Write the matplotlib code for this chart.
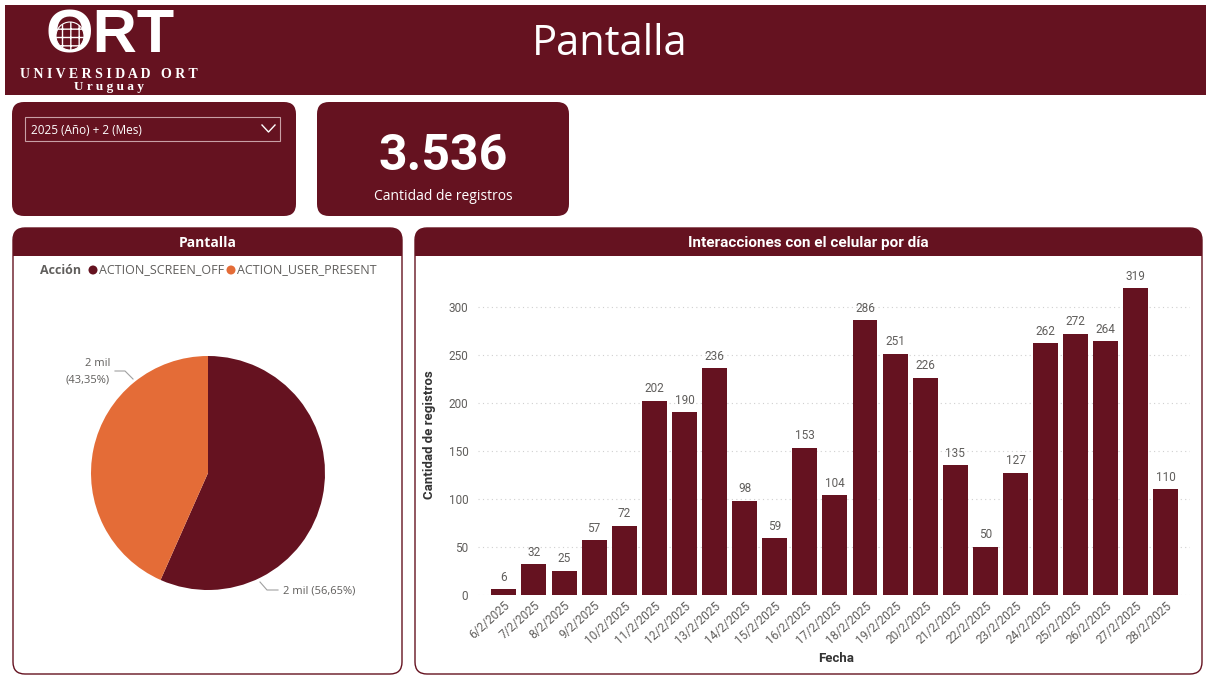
import matplotlib
matplotlib.use("Agg")
import matplotlib.pyplot as plt
from matplotlib.patches import FancyBboxPatch, Rectangle, Circle
import numpy as np

# datos
fechas = ["6/2/2025", "7/2/2025", "8/2/2025", "9/2/2025", "10/2/2025", "11/2/2025",
          "12/2/2025", "13/2/2025", "14/2/2025", "15/2/2025", "16/2/2025", "17/2/2025",
          "18/2/2025", "19/2/2025", "20/2/2025", "21/2/2025", "22/2/2025", "23/2/2025",
          "24/2/2025", "25/2/2025", "26/2/2025", "27/2/2025", "28/2/2025"]
registros = [6, 32, 25, 57, 72, 202, 190, 236, 98, 59, 153, 104,
             286, 251, 226, 135, 50, 127, 262, 272, 264, 319, 110]
acciones = ["ACTION_SCREEN_OFF", "ACTION_USER_PRESENT"]
acciones_valores = [2003, 1533]
filtro = "2025 (Año) + 2 (Mes)"
total = sum(registros)

ROJO = "#651220"
NARANJA = "#E46C37"
GRIS = "#605E5C"
W, H = 1211, 677

fig = plt.figure(figsize=(W / 100, H / 100), dpi=100)
fig.patch.set_facecolor("white")

# eje de fondo en pixeles
bg = fig.add_axes([0, 0, 1, 1])
bg.set_xlim(0, W)
bg.set_ylim(H, 0)
bg.axis("off")


def caja(x, y, w, h, fc, ec="none", lw=0, r=12, z=1):
    p = FancyBboxPatch((x, y), w, h, boxstyle=f"round,pad=0,rounding_size={r}",
                       fc=fc, ec=ec, lw=lw, zorder=z)
    bg.add_patch(p)


# encabezado
bg.add_patch(Rectangle((5, 5), 1201, 90, fc=ROJO, ec="none", zorder=1))
bg.text(610, 44, "Pantalla", color="white", fontsize=30, family="Open Sans",
        ha="center", va="center", zorder=3)

# logo ORT
bg.text(110, 37, "ORT", color="white", fontsize=44, family="Liberation Sans",
        weight="bold", ha="center", va="center", zorder=3)
bg.add_patch(Circle((70, 36), 14, fc=ROJO, ec="white", hatch="++", lw=0.8, zorder=4))
bg.text(109, 74, "U N I V E R S I D A D   O R T", color="white", fontsize=10,
        family="Liberation Serif", weight="bold", ha="center", va="center", zorder=3)
bg.text(109, 87, "U r u g u a y", color="white", fontsize=9.5,
        family="Liberation Serif", weight="bold", ha="center", va="center", zorder=3)

# tarjeta filtro
caja(12, 102, 284, 114, ROJO)
bg.add_patch(Rectangle((25, 117), 255, 24, fc="none", ec="#C8A0A6", lw=0.8, zorder=3))
bg.text(31, 130, filtro, color="white", fontsize=8.5, family="Open Sans",
        ha="left", va="center", zorder=3)
bg.plot([262, 268.5, 275], [125, 132, 125], color="white", lw=1, zorder=3)

# tarjeta total
caja(317, 102, 252, 114, ROJO)
bg.text(443, 157, f"{total:,}".replace(",", "."), color="white", fontsize=36,
        family="Roboto", weight="bold", ha="center", va="center", zorder=3)
bg.text(443, 196, "Cantidad de registros", color="white", fontsize=10,
        family="Open Sans", ha="center", va="center", zorder=3)

# paneles
for x0, x1, titulo, fam, fs in [(13, 402, "Pantalla", "Open Sans", 10),
                                 (415, 1202, "Interacciones con el celular por día", "Roboto", 11)]:
    caja(x0, 228, x1 - x0, 446, "white", ec=ROJO, lw=1)
    caja(x0, 228, x1 - x0, 28, ROJO, z=2)
    bg.add_patch(Rectangle((x0, 242), x1 - x0, 14, fc=ROJO, ec="none", zorder=2))
    bg.text((x0 + x1) / 2, 243, titulo, color="white", fontsize=fs, family=fam,
            weight="bold", ha="center", va="center", zorder=3)

# leyenda del pie
bg.text(40, 270, "Acción", color=GRIS, fontsize=9, family="Open Sans", weight="bold",
        ha="left", va="center", zorder=3)
for xs, nombre, col in [(93, acciones[0], ROJO), (231, acciones[1], NARANJA)]:
    bg.add_patch(Circle((xs, 270), 4.5, fc=col, ec="none", zorder=3))
    bg.text(xs + 6, 270, nombre, color=GRIS, fontsize=9, family="Open Sans",
            ha="left", va="center", zorder=3)

# pie
axp = fig.add_axes([91 / W, (H - 590) / H, 234 / W, 234 / H])
axp.pie(acciones_valores, colors=[ROJO, NARANJA], startangle=90, counterclock=False,
        radius=1, wedgeprops=dict(linewidth=0))
axp.set_xlim(-1, 1)
axp.set_ylim(-1, 1)
axp.set_aspect("equal")
axp.patch.set_alpha(0)

pct = [v / sum(acciones_valores) * 100 for v in acciones_valores]
etq = [f"{round(v / 1000)} mil" for v in acciones_valores]
# etiqueta naranja
bg.plot([133, 125, 115], [379, 371, 371], color="#A0A0A0", lw=0.8, zorder=3)
bg.text(110, 364, etq[1], color=GRIS, fontsize=8, family="Open Sans",
        ha="right", va="center", zorder=3)
bg.text(110, 380, f"({pct[1]:.2f}%)".replace(".", ","), color=GRIS, fontsize=8,
        family="Open Sans", ha="right", va="center", zorder=3)
# etiqueta roja
bg.plot([260, 267, 278], [582, 590, 590], color="#A0A0A0", lw=0.8, zorder=3)
bg.text(283, 591, f"{etq[0]} ({pct[0]:.2f}%)".replace(".", ","), color=GRIS,
        fontsize=8, family="Open Sans", ha="left", va="center", zorder=3)

# barras
axb = fig.add_axes([478 / W, (H - 595) / H, 712 / W, 320 / H])
x = np.arange(len(fechas))
barras = axb.bar(x, registros, width=0.83, color=ROJO, zorder=2)
axb.bar_label(barras, padding=4, color=GRIS, fontsize=8.5, family="Roboto")
axb.set_xlim(-0.86, len(fechas) - 0.2)
axb.set_ylim(0, 333)
axb.set_yticks([0, 50, 100, 150, 200, 250, 300])
axb.set_xticks(x)
axb.set_xticklabels(fechas, rotation=42, ha="right", rotation_mode="anchor",
                    fontsize=8.5, family="Roboto", color=GRIS)
for t in axb.get_yticklabels():
    t.set_fontsize(8.5)
    t.set_family("Roboto")
    t.set_color(GRIS)
axb.tick_params(length=0)
axb.tick_params(axis="y", pad=7)
axb.tick_params(axis="x", pad=3)
axb.grid(axis="y", color="#D0D0D0", linestyle=(0, (1, 3)), lw=0.8, zorder=0)
for s in axb.spines.values():
    s.set_visible(False)
axb.patch.set_alpha(0)
axb.set_ylabel("Cantidad de registros", fontsize=9.5, family="Roboto", weight="bold",
               color="#333333", labelpad=9)
bg.text(836, 659, "Fecha", color="#333333", fontsize=9.5, family="Roboto",
        weight="bold", ha="center", va="center", zorder=3)

fig.savefig("out.png", dpi=100)
